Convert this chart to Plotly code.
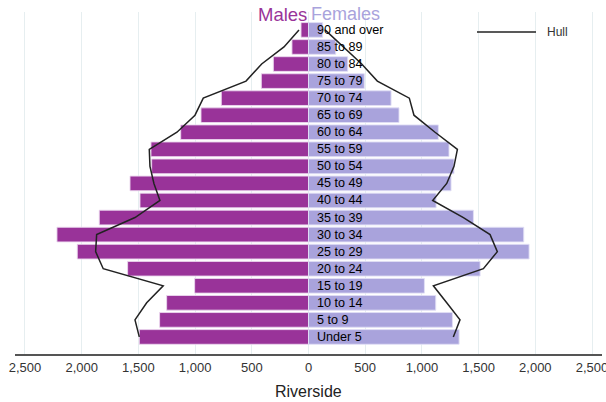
import plotly.graph_objects as go

ages = ["Under 5", "5 to 9", "10 to 14", "15 to 19", "20 to 24", "25 to 29", "30 to 34",
        "35 to 39", "40 to 44", "45 to 49", "50 to 54", "55 to 59", "60 to 64", "65 to 69",
        "70 to 74", "75 to 79", "80 to 84", "85 to 89", "90 and over"]

males = [1492, 1313, 1251, 1004, 1595, 2039, 2218, 1845, 1486, 1574, 1383, 1389, 1127,
         948, 769, 416, 310, 146, 66]
females = [1328, 1269, 1122, 1022, 1513, 1945, 1898, 1454, 1125, 1257, 1283, 1239, 1145,
           798, 728, 492, 346, 240, 125]
hull_males = [1492, 1530, 1427, 1281, 1810, 1877, 1868, 1530, 1310, 1363, 1398, 1404, 1160,
              1001, 928, 551, 413, 216, 84]
hull_females = [1277, 1336, 1219, 1101, 1542, 1665, 1601, 1366, 1095, 1219, 1283, 1313, 1116,
                930, 889, 607, 469, 307, 146]

tick_vals = [-2500, -2000, -1500, -1000, -500, 0, 500, 1000, 1500, 2000, 2500]
tick_text = ["2,500", "2,000", "1,500", "1,000", "500", "0", "500", "1,000", "1,500", "2,000", "2,500"]

MALE_C = "#993399"
FEMALE_C = "#a9a3dc"
FONT = "Liberation Sans, Arial"

W, H = 606, 402
ML, MR, MT, MB = 15, 4, 12, 48
pw = W - ML - MR
ph = H - MT - MB


def px(xp):
    return (xp - ML) / pw


def py(yp):
    return (H - MB - yp) / ph


fig = go.Figure()
fig.add_trace(go.Bar(
    y=ages, x=[-v for v in males], orientation="h", name="Males",
    marker=dict(color=MALE_C, line=dict(color="rgba(235,215,238,0.9)", width=1)),
    width=0.86, showlegend=False))
fig.add_trace(go.Bar(
    y=ages, x=females, orientation="h", name="Females",
    marker=dict(color=FEMALE_C, line=dict(color="rgba(225,223,245,0.9)", width=1)),
    width=0.86, showlegend=False))
fig.add_trace(go.Scatter(
    y=ages, x=[-v for v in hull_males], mode="lines", name="Hull",
    line=dict(color="#222222", width=1.5), showlegend=False))
fig.add_trace(go.Scatter(
    y=ages, x=hull_females, mode="lines", name="Hull",
    line=dict(color="#222222", width=1.5), showlegend=False))

annotations = []
for a in ages:
    annotations.append(dict(x=0, y=a, xref="x", yref="y", text=a, showarrow=False,
                            xanchor="left", xshift=6,
                            font=dict(family=FONT, size=12.6, color="#000000")))
annotations += [
    dict(x=0, y=py(14), xref="x", yref="paper", text="Males", showarrow=False,
         xanchor="right", yanchor="middle", xshift=0,
         font=dict(family=FONT, size=18.5, color=MALE_C)),
    dict(x=0, y=py(14), xref="x", yref="paper", text="Females", showarrow=False,
         xanchor="left", yanchor="middle", xshift=0,
         font=dict(family=FONT, size=18, color=FEMALE_C)),
    dict(x=px(545), y=py(32), xref="paper", yref="paper", text="Hull", showarrow=False,
         xanchor="left", yanchor="middle",
         font=dict(family=FONT, size=12, color="#333333")),
    dict(x=0, y=py(391), xref="x", yref="paper", text="Riverside", showarrow=False,
         xanchor="center", yanchor="middle",
         font=dict(family=FONT, size=16, color="#222222")),
]

fig.update_layout(
    width=W, height=H,
    margin=dict(l=ML, r=MR, t=MT, b=MB),
    barmode="overlay",
    plot_bgcolor="white", paper_bgcolor="white",
    font=dict(family=FONT, size=13, color="#333333"),
    annotations=annotations,
    xaxis=dict(range=[-2588, 2588], tickvals=tick_vals, ticktext=tick_text,
               showgrid=True, gridcolor="#e6eef0", gridwidth=1, zeroline=False,
               showline=True, linecolor="#555555", linewidth=2, ticks="",
               automargin=False, ticklabeloverflow="allow",
               tickfont=dict(family=FONT, size=13, color="#333333")),
    yaxis=dict(range=[-1, 19.05], showticklabels=False, showgrid=False, zeroline=False,
               showline=False, ticks="", automargin=False),
)

# legend drawn manually (longer line sample than plotly's default)
fig.add_shape(type="line", xref="paper", yref="paper", x0=px(477), x1=px(536), y0=py(32), y1=py(32),
              line=dict(color="#222222", width=1.5))

fig.write_html("out.html", config={"displayModeBar": False},
               post_script="document.body.style.margin='0';document.body.style.overflow='hidden';")
